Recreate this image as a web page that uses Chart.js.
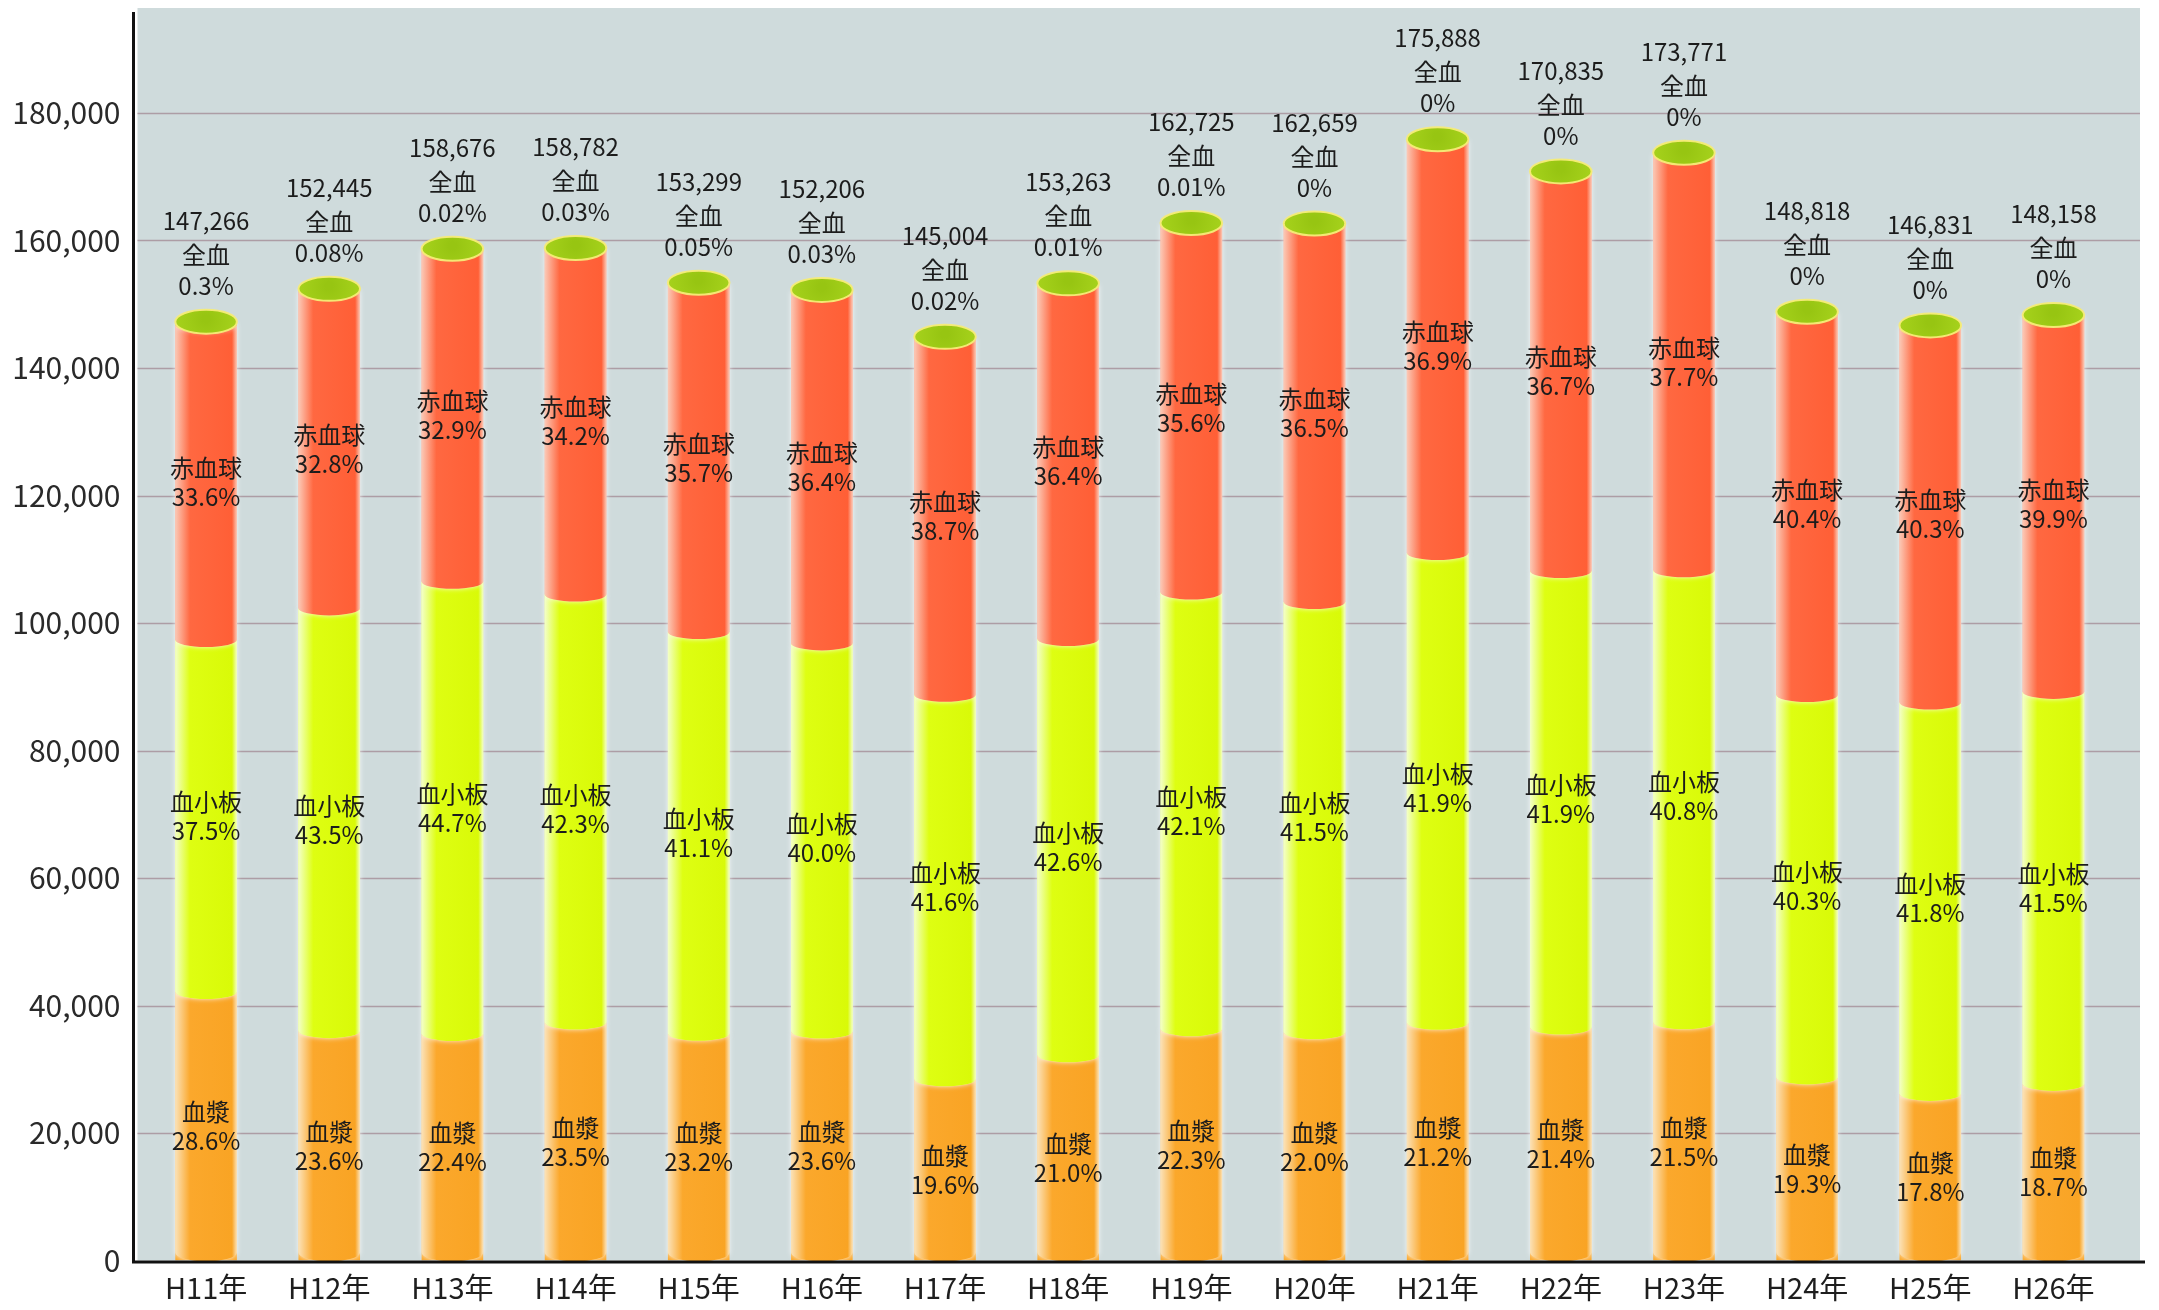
<!DOCTYPE html>
<html lang="ja">
<head>
<meta charset="utf-8">
<title>製剤別 献血者数の推移</title>
<script src="https://cdn.jsdelivr.net/npm/chart.js@4.4.1/dist/chart.umd.min.js"></script>
<style>
  html, body { margin: 0; padding: 0; background: #ffffff; }
  #wrap { width: 2159px; height: 1310px; }
</style>
</head>
<body>
<div id="wrap"><canvas id="bloodChart" width="2159" height="1310"></canvas></div>
<script>
// 年度
const years = ["H11年", "H12年", "H13年", "H14年", "H15年", "H16年", "H17年", "H18年",
               "H19年", "H20年", "H21年", "H22年", "H23年", "H24年", "H25年", "H26年"];
// 合計 (本数)
const totals = [147266, 152445, 158676, 158782, 153299, 152206, 145004, 153263,
                162725, 162659, 175888, 170835, 173771, 148818, 146831, 148158];
// 内訳 (%)
const plasmaPct   = [28.6, 23.6, 22.4, 23.5, 23.2, 23.6, 19.6, 21.0, 22.3, 22.0, 21.2, 21.4, 21.5, 19.3, 17.8, 18.7];
const plateletPct = [37.5, 43.5, 44.7, 42.3, 41.1, 40.0, 41.6, 42.6, 42.1, 41.5, 41.9, 41.9, 40.8, 40.3, 41.8, 41.5];
const redPct      = [33.6, 32.8, 32.9, 34.2, 35.7, 36.4, 38.7, 36.4, 35.6, 36.5, 36.9, 36.7, 37.7, 40.4, 40.3, 39.9];
const wholePct    = [0.3, 0.08, 0.02, 0.03, 0.05, 0.03, 0.02, 0.01, 0.01, 0, 0, 0, 0, 0, 0, 0];
// 目盛り
const yTicks = [0, 20000, 40000, 60000, 80000, 100000, 120000, 140000, 160000, 180000];

const seriesNames = ["血漿", "血小板", "赤血球", "全血"];
const seriesPct = [plasmaPct, plateletPct, redPct, wholePct];
// 色: [本体, 左側の明るい色, 右側]
const seriesColors = [
  ["#fba82c", "#fbe2b8", "#f9a424"],
  ["#defe12", "#f3ffc8", "#d9fa08"],
  ["#ff6841", "#fbc9b6", "#ff5f36"],
  ["#9dc913", "#d8ef80", "#96c20e"],
];

const FONT = "'Noto Sans CJK JP', 'Noto Sans', sans-serif";
Chart.defaults.font.family = FONT;

function toAmount(pcts) {
  return pcts.map((p, i) => totals[i] * p / 100);
}

// 円柱の1区間
function segPath(ctx, l, r, top, bot, ry, ryBot) {
  const cx = (l + r) / 2, rx = (r - l) / 2;
  ctx.beginPath();
  ctx.moveTo(l, top);
  ctx.lineTo(l, bot);
  ctx.ellipse(cx, bot, rx, ryBot, 0, Math.PI, 0, true);
  ctx.lineTo(r, top);
  ctx.ellipse(cx, top, rx, ry, 0, 0, Math.PI, false);
  ctx.closePath();
}

const cylinderPlugin = {
  id: "cylinders",
  beforeDraw(chart) {
    const { ctx, chartArea, scales: { y } } = chart;
    const base = y.getPixelForValue(0);
    ctx.save();
    ctx.fillStyle = "#cfdbdc";
    ctx.fillRect(chartArea.left - 7, 8, chartArea.right + 25 - (chartArea.left - 7), base - 8);
    // 目盛り線
    ctx.strokeStyle = "rgba(168,150,158,0.9)";
    ctx.lineWidth = 1.5;
    yTicks.forEach(v => {
      if (v === 0) return;
      const py = Math.round(y.getPixelForValue(v)) + 0.5;
      ctx.beginPath();
      ctx.moveTo(chartArea.left - 7, py);
      ctx.lineTo(chartArea.right + 25, py);
      ctx.stroke();
    });
    ctx.restore();
  },
  afterDatasetsDraw(chart) {
    const { ctx, chartArea, scales: { y } } = chart;
    const base = y.getPixelForValue(0);
    const n = years.length;
    const metas = seriesNames.map((_, d) => chart.getDatasetMeta(d));

    ctx.save();
    for (let i = 0; i < n; i++) {
      for (let d = 0; d < metas.length; d++) {
        const el = metas[d].data[i];
        const l = el.x - el.width / 2, r = el.x + el.width / 2;
        if (el.base - el.y < 0.5 && d > 0) continue;
        const c = seriesColors[d];
        const g = ctx.createLinearGradient(l, 0, r, 0);
        g.addColorStop(0, c[1]);
        g.addColorStop(0.24, c[0]);
        g.addColorStop(0.92, c[2]);
        g.addColorStop(1, c[1]);
        ctx.fillStyle = g;
        ctx.shadowColor = "rgba(255,255,255,0.8)";
        ctx.shadowBlur = 5;
        const bot = d === 0 ? el.base - 8 : el.base;
        segPath(ctx, l, r, el.y, bot, 7, d === 0 ? 9 : 7);
        ctx.fill();
      }
      // 上面の楕円
      const topEl = metas[metas.length - 1].data[i];
      const l = topEl.x - topEl.width / 2, r = topEl.x + topEl.width / 2;
      ctx.shadowBlur = 0;
      const cg = ctx.createRadialGradient(topEl.x, topEl.y - 3, 4, topEl.x, topEl.y, topEl.width / 2);
      cg.addColorStop(0, "#97c512");
      cg.addColorStop(1, "#a6d21c");
      ctx.fillStyle = cg;
      ctx.beginPath();
      ctx.ellipse(topEl.x, topEl.y, (r - l) / 2, 12, 0, 0, Math.PI * 2);
      ctx.fill();
      ctx.strokeStyle = "rgba(246,236,120,0.95)";
      ctx.lineWidth = 2;
      ctx.stroke();
    }

    // 軸線
    ctx.strokeStyle = "#111";
    ctx.lineWidth = 3;
    ctx.beginPath();
    ctx.moveTo(chartArea.left - 11, 12);
    ctx.lineTo(chartArea.left - 11, base + 3);
    ctx.moveTo(chartArea.left - 12.5, base + 1.5);
    ctx.lineTo(chartArea.right + 30, base + 1.5);
    ctx.stroke();

    // ラベル
    ctx.fillStyle = "#1c1c1c";
    ctx.textAlign = "center";
    ctx.textBaseline = "middle";
    ctx.font = "24px " + FONT;
    for (let i = 0; i < n; i++) {
      for (let d = 0; d < 3; d++) {
        const el = metas[d].data[i];
        const mid = (el.y + el.base) / 2;
        ctx.fillText(seriesNames[d], el.x, mid - 14);
        ctx.fillText(seriesPct[d][i].toFixed(1) + "%", el.x, mid + 15);
      }
      const topEl = metas[3].data[i];
      ctx.fillText(totals[i].toLocaleString("en-US"), topEl.x, topEl.y - 101);
      ctx.fillText("全血", topEl.x, topEl.y - 67);
      ctx.fillText(String(wholePct[i]) + "%", topEl.x, topEl.y - 36);
    }
    ctx.restore();
  },
};

new Chart(document.getElementById("bloodChart"), {
  type: "bar",
  data: {
    labels: years,
    datasets: seriesNames.map((name, d) => ({
      label: name,
      data: toAmount(seriesPct[d]),
      backgroundColor: seriesColors[d][0],
      borderWidth: 0,
      barPercentage: 0.5,
      categoryPercentage: 1.0,
    })),
  },
  options: {
    responsive: false,
    devicePixelRatio: 1,
    animation: false,
    layout: { padding: { top: 11, right: 44, bottom: 0, left: 0 } },
    plugins: {
      legend: { display: false },
      tooltip: { enabled: false },
    },
    scales: {
      x: {
        stacked: true,
        grid: { display: false, drawTicks: false },
        border: { display: false },
        ticks: { color: "#1e1e1e", font: { size: 29 }, padding: 10, maxRotation: 0 },
        afterFit(scale) { scale.height = 49.5; },
      },
      y: {
        stacked: true,
        min: 0,
        max: 196000,
        grid: { display: false, drawTicks: false },
        border: { display: false },
        afterBuildTicks(scale) { scale.ticks = yTicks.map(v => ({ value: v })); },
        ticks: {
          color: "#2a2a2a",
          font: { size: 30 },
          padding: 24,
          callback: v => v.toLocaleString("en-US"),
        },
        afterFit(scale) {
          scale.width = 144.5;
          scale.paddingTop = 0;
          scale.paddingBottom = 0;
        },
      },
    },
  },
  plugins: [cylinderPlugin],
});
</script>
</body>
</html>
